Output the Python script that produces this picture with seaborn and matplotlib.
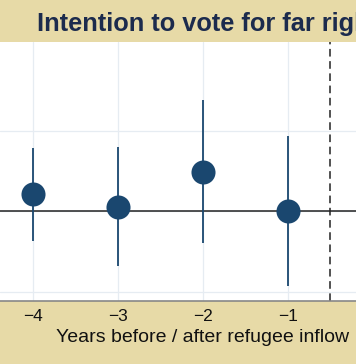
import pandas as pd
import matplotlib
matplotlib.use("Agg")
import matplotlib.pyplot as plt
import seaborn as sns

# event-study estimates
years = [-4, -3, -2, -1]
coef = [0.0042, 0.0012, 0.0099, 0.0002]
ci_low = [-0.0074, -0.0136, -0.0077, -0.0185]
ci_high = [0.0158, 0.0160, 0.0277, 0.0188]
x_ticks = [-4, -3, -2, -1]
y_grid = [-0.02, 0.0, 0.02]

df = pd.DataFrame({"year": years, "coef": coef, "lo": ci_low, "hi": ci_high})

sns.set_style("white")
plt.rcParams['font.family'] = ['Liberation Sans', 'DejaVu Sans']

tan = "#E7DAA7"
navy = "#1A476F"

fig = plt.figure(figsize=(3.56, 3.64), dpi=100, facecolor=tan)
ax = fig.add_axes([0, 63 / 364, 1, 259 / 364])
ax.set_facecolor("white")

# grid
for v in x_ticks:
    ax.axvline(v, color="#E6ECF2", lw=0.9, zorder=0)
for v in y_grid:
    ax.axhline(v, color="#E6ECF2", lw=0.9, zorder=0)
ax.axhline(0, color="#222222", lw=1.1, zorder=1)
ax.axvline(-0.5, color="#222222", lw=1.1, ls=(0, (5, 3)), zorder=1)

# confidence intervals + point estimates
ax.vlines(df["year"], df["lo"], df["hi"], color=navy, lw=1.3, zorder=2)
sns.scatterplot(data=df, x="year", y="coef", ax=ax, s=300, color=navy,
                edgecolor=navy, linewidth=0, zorder=3, legend=False)

ax.set_xlim(-4.388, -0.2)
ax.set_ylim(-0.0222, 0.042)
ax.set_xticks(x_ticks)
ax.set_xticklabels([f"\u2212{abs(v)}" for v in x_ticks], fontsize=12.5)
ax.set_yticks([])
ax.tick_params(axis="x", direction="out", length=4, width=0.8, color="#555555",
               pad=2, labelcolor="#111111")
ax.set_xlabel("Years before / after refugee inflow", fontsize=14, color="#111111")
ax.xaxis.set_label_coords(203 / 356, -0.11)
ax.set_ylabel("")
for s in ["top", "left", "right"]:
    ax.spines[s].set_visible(False)
ax.spines["bottom"].set_color("#888888")
ax.spines["bottom"].set_linewidth(1.2)

fig.text(37 / 356, 1 - 24 / 364, "Intention to vote for far right",
         fontsize=18.3, fontweight="bold", color="#1C2B4D", ha="left", va="center")

fig.savefig("out.png", dpi=100, facecolor=tan)
